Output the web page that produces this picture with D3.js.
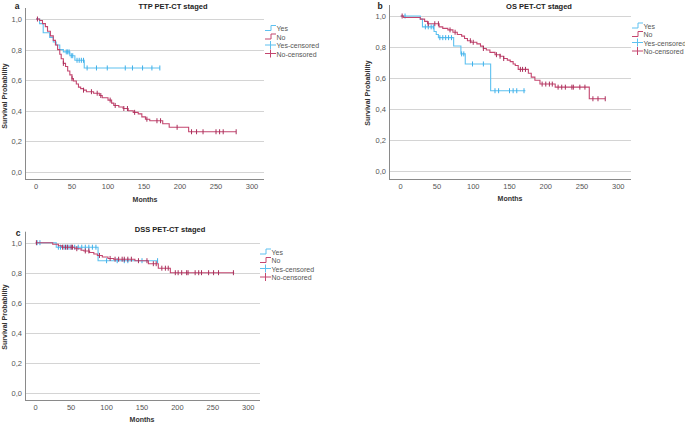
<!DOCTYPE html>
<html><head><meta charset="utf-8">
<script src="https://cdn.jsdelivr.net/npm/d3@7/dist/d3.min.js"></script>
<style>body{margin:0;background:#fff;}svg{display:block;font-family:"Liberation Sans",Arial,sans-serif;}</style>
</head><body><svg id="c" width="685" height="424"></svg>
<script>
// ---- tick labels / categories ----
const yTickValues = [0, 0.2, 0.4, 0.6, 0.8, 1.0];
const yTickLabels = ["0,0", "0,2", "0,4", "0,6", "0,8", "1,0"];
const xTickValues = [0, 50, 100, 150, 200, 250, 300];
const groups = ["Yes", "No"];
const legendLabels = ["Yes", "No", "Yes-censored", "No-censored"];
const panelTitles = ["TTP PET-CT staged", "OS PET-CT staged", "DSS PET-CT staged"];
const panelLetters = ["a", "b", "c"];

// ---- Panel a (TTP) ----
const aYesTimes = [0, 5, 10, 19, 24, 28, 33, 38, 47, 54, 67];
const aYesSurv  = [1.0, 0.97, 0.91, 0.88, 0.85, 0.83, 0.80, 0.785, 0.76, 0.73, 0.68];
const aYesEnd = 172;
const aYesCens = [42, 44, 46, 49, 51, 57, 60, 63, 66, 71, 84, 99, 124, 134, 148, 161, 172];
const aNoTimes = [0, 5, 9, 13, 16, 20, 24, 27, 30, 33, 35, 38, 41, 44, 47, 50, 52, 56, 59, 62, 66, 70, 80, 88, 92, 100, 105, 108, 115, 121, 128, 135, 142, 147, 152, 158, 176, 185, 212];
const aNoSurv  = [1.0, 0.99, 0.97, 0.95, 0.92, 0.89, 0.86, 0.83, 0.80, 0.77, 0.74, 0.71, 0.69, 0.66, 0.635, 0.61, 0.595, 0.575, 0.555, 0.545, 0.535, 0.525, 0.515, 0.50, 0.485, 0.47, 0.45, 0.435, 0.425, 0.415, 0.40, 0.39, 0.38, 0.36, 0.345, 0.335, 0.315, 0.292, 0.263];
const aNoEnd = 278;
const aNoCens = [2, 38, 50, 66, 77, 85, 90, 103, 110, 122, 127, 137, 154, 168, 173, 196, 216, 223, 232, 250, 255, 260, 278];

// ---- Panel b (OS) ----
const bYesTimes = [0, 27, 30, 46, 49, 52, 73, 83, 89, 124];
const bYesSurv  = [1.0, 0.98, 0.93, 0.90, 0.88, 0.86, 0.806, 0.755, 0.69, 0.517];
const bYesEnd = 172;
const bYesCens = [6, 34, 38, 42, 45, 54, 58, 62, 66, 70, 84, 87, 99, 114, 130, 135, 150, 155, 160, 170];
const bNoTimes = [0, 4, 27, 33, 37, 53, 58, 65, 72, 78, 84, 88, 92, 97, 105, 110, 114, 118, 123, 130, 137, 142, 147, 151, 155, 158, 162, 176, 180, 185, 192, 213, 260];
const bNoSurv  = [1.0, 0.99, 0.98, 0.965, 0.95, 0.93, 0.92, 0.91, 0.895, 0.88, 0.87, 0.855, 0.84, 0.83, 0.82, 0.805, 0.79, 0.78, 0.765, 0.75, 0.74, 0.725, 0.715, 0.705, 0.69, 0.68, 0.655, 0.63, 0.605, 0.585, 0.56, 0.54, 0.465];
const bNoEnd = 282;
const bNoCens = [2, 38, 47, 52, 68, 75, 96, 100, 114, 132, 137, 142, 165, 168, 172, 195, 200, 205, 209, 217, 222, 227, 236, 238, 247, 254, 265, 272, 282];

// ---- Panel c (DSS) ----
const cYesTimes = [0, 29, 88];
const cYesSurv  = [1.0, 0.97, 0.88];
const cYesEnd = 172;
const cYesCens = [2, 6, 32, 35, 40, 44, 47, 50, 55, 60, 65, 70, 75, 80, 85, 100, 115, 125, 130, 150, 172];
const cNoTimes = [0, 24, 32, 37, 55, 64, 68, 76, 82, 87, 94, 102, 110, 140, 159, 173, 190];
const cNoSurv  = [1.0, 0.99, 0.98, 0.97, 0.96, 0.95, 0.945, 0.935, 0.925, 0.915, 0.905, 0.895, 0.89, 0.88, 0.86, 0.83, 0.80];
const cNoEnd = 280;
const cNoCens = [1, 38, 42, 45, 50, 52, 58, 70, 75, 90, 105, 112, 117, 122, 125, 130, 135, 145, 157, 166, 170, 178, 183, 187, 197, 201, 206, 213, 215, 225, 230, 234, 244, 251, 258, 279];

// ---- layout (styling only) ----
const colors = {Yes: "#5EC1F0", No: "#C4466F"};
const censColors = {Yes: "#3FB0EA", No: "#A92F5B"};
const panels = [
  {title: panelTitles[0], letter: panelLetters[0], left: 25, right: 264, x0: 36, x300: 252, y1: 19, y0: 172, bottom: 179,
   titleX: 173, titleY: 9, letterX: 17, letterY: 9, ylabX: 7, ylabY: 96, monthsX: 145, monthsY: 202, legX: 265, legY: 28,
   series: {Yes: [aYesTimes, aYesSurv, aYesEnd, aYesCens], No: [aNoTimes, aNoSurv, aNoEnd, aNoCens]}},
  {title: panelTitles[1], letter: panelLetters[1], left: 389, right: 631, x0: 400.7, x300: 618.3, y1: 16, y0: 170.7, bottom: 179,
   titleX: 539, titleY: 9, letterX: 380, letterY: 9, ylabX: 370, ylabY: 93, monthsX: 510, monthsY: 201, legX: 632, legY: 25.5,
   series: {Yes: [bYesTimes, bYesSurv, bYesEnd, bYesCens], No: [bNoTimes, bNoSurv, bNoEnd, bNoCens]}},
  {title: panelTitles[2], letter: panelLetters[2], left: 25, right: 260, x0: 35.7, x300: 248.3, y1: 242.7, y0: 392.7, bottom: 400,
   titleX: 170, titleY: 232, letterX: 18, letterY: 236, ylabX: 7, ylabY: 317, monthsX: 142, monthsY: 422, legX: 260, legY: 251.5,
   series: {Yes: [cYesTimes, cYesSurv, cYesEnd, cYesCens], No: [cNoTimes, cNoSurv, cNoEnd, cNoCens]}}
];

const svg = d3.select("#c");

function survAt(times, surv, t) {
  let s = surv[0];
  for (let i = 0; i < times.length; i++) { if (times[i] <= t) s = surv[i]; }
  return s;
}

panels.forEach(p => {
  const x = d3.scaleLinear().domain([0, 300]).range([p.x0, p.x300]);
  const y = d3.scaleLinear().domain([0, 1]).range([p.y0, p.y1]);
  const g = svg.append("g");

  g.selectAll("line.grid").data(yTickValues).enter().append("line")
    .attr("x1", p.left).attr("x2", p.right)
    .attr("y1", d => Math.round(y(d)) + 0.5).attr("y2", d => Math.round(y(d)) + 0.5)
    .attr("stroke", "#d4d4d4").attr("stroke-width", 1);

  g.append("line").attr("x1", p.left + 0.5).attr("x2", p.left + 0.5).attr("y1", p.y1 - 11).attr("y2", p.bottom)
    .attr("stroke", "#8a8a8a");
  g.append("line").attr("x1", p.left).attr("x2", p.right).attr("y1", p.bottom + 0.5).attr("y2", p.bottom + 0.5)
    .attr("stroke", "#8a8a8a");

  g.selectAll("text.yt").data(yTickValues).enter().append("text")
    .attr("x", p.left - 3).attr("y", d => y(d) + 3)
    .attr("text-anchor", "end").attr("font-size", 7.5).attr("fill", "#555")
    .text((d, i) => yTickLabels[i]);
  g.selectAll("text.xt").data(xTickValues).enter().append("text")
    .attr("x", d => x(d)).attr("y", p.bottom + 10)
    .attr("text-anchor", "middle").attr("font-size", 7.5).attr("fill", "#555")
    .text(d => d);

  g.append("text").attr("x", p.titleX).attr("y", p.titleY).attr("text-anchor", "middle")
    .attr("font-size", 7.5).attr("font-weight", "bold").attr("fill", "#222").text(p.title);
  g.append("text").attr("x", p.letterX).attr("y", p.letterY).attr("text-anchor", "middle")
    .attr("font-size", 8.5).attr("font-weight", "bold").attr("fill", "#222").text(p.letter);
  g.append("text").attr("transform", `translate(${p.ylabX},${p.ylabY}) rotate(-90)`).attr("text-anchor", "middle")
    .attr("font-size", 7).attr("font-weight", "bold").attr("fill", "#333").text("Survival Probability");
  g.append("text").attr("x", p.monthsX).attr("y", p.monthsY).attr("text-anchor", "middle")
    .attr("font-size", 7).attr("font-weight", "bold").attr("fill", "#333").text("Months");

  const line = d3.line().x(d => x(d[0])).y(d => y(d[1])).curve(d3.curveStepAfter);
  ["Yes", "No"].forEach(k => {
    const [times, surv, end, cens] = p.series[k];
    const pts = times.map((t, i) => [t, surv[i]]);
    pts.push([end, surv[surv.length - 1]]);
    g.append("path").attr("d", line(pts)).attr("fill", "none").attr("stroke", colors[k]).attr("stroke-width", 1.1);
    g.selectAll(null).data(cens).enter().append("line")
      .attr("x1", d => x(d)).attr("x2", d => x(d))
      .attr("y1", d => y(survAt(times, surv, d)) - 2.5).attr("y2", d => y(survAt(times, surv, d)) + 2.5)
      .attr("stroke", censColors[k]).attr("stroke-width", 1);
  });

  legendLabels.forEach((lab, i) => {
    const k = groups[i % 2];
    const cy = p.legY + i * 8.5;
    const lx = p.legX;
    if (i < 2) {
      g.append("path").attr("d", `M${lx},${cy + 2.5}H${lx + 6}V${cy - 2.5}H${lx + 11}`)
        .attr("fill", "none").attr("stroke", colors[k]).attr("stroke-width", 1);
    } else {
      g.append("line").attr("x1", lx).attr("x2", lx + 11).attr("y1", cy).attr("y2", cy).attr("stroke", colors[k]);
      g.append("line").attr("x1", lx + 5.5).attr("x2", lx + 5.5).attr("y1", cy - 4).attr("y2", cy + 4).attr("stroke", colors[k]);
    }
    g.append("text").attr("x", lx + 11.5).attr("y", cy + 3).attr("font-size", 7).attr("fill", "#555").text(lab);
  });
});
</script></body></html>
